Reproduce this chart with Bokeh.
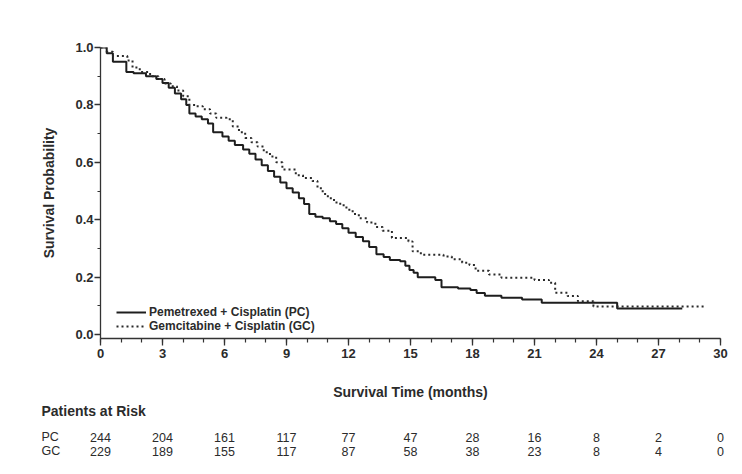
from bokeh.plotting import figure
from bokeh.models import (Range1d, FixedTicker, Legend, LegendItem, CustomJSTickFormatter)
from bokeh.layouts import column
from bokeh.embed import file_html
from bokeh.resources import INLINE
from bokeh.core.properties import value

# ---- data ----
pc_time = [0, 0.3, 0.6, 1.25, 1.6, 2.2, 2.7, 3.0, 3.3, 3.6, 3.9, 4.15, 4.3, 4.6, 4.9,
           5.2, 5.45, 5.9, 6.2, 6.5, 6.9, 7.2, 7.5, 7.8, 8.1, 8.4, 8.7, 9.0, 9.3, 9.6,
           9.85, 10.1, 10.4, 10.75, 11.1, 11.4, 11.7, 12.0, 12.35, 12.7, 13.0, 13.35,
           13.7, 14.0, 14.5, 14.75, 14.95, 15.15, 15.35, 16.2, 16.5, 17.3, 17.9, 18.2,
           18.6, 19.4, 20.4, 21.35, 25.0, 28.15]
pc_surv = [1.0, 0.98, 0.95, 0.915, 0.91, 0.9, 0.89, 0.876, 0.86, 0.84, 0.82, 0.80, 0.77,
           0.76, 0.75, 0.735, 0.705, 0.69, 0.675, 0.66, 0.645, 0.63, 0.61, 0.59, 0.57,
           0.55, 0.53, 0.51, 0.495, 0.475, 0.455, 0.42, 0.41, 0.405, 0.395, 0.385, 0.37,
           0.355, 0.34, 0.325, 0.305, 0.28, 0.27, 0.26, 0.255, 0.24, 0.225, 0.215, 0.2,
           0.19, 0.165, 0.16, 0.155, 0.145, 0.135, 0.128, 0.122, 0.111, 0.091, 0.091]

gc_time = [0, 0.3, 0.6, 1.3, 1.55, 1.9, 2.4, 2.8, 3.1, 3.4, 3.7, 4.0, 4.3, 4.6, 4.95,
           5.3, 5.6, 6.1, 6.4, 6.7, 7.0, 7.3, 7.6, 7.9, 8.2, 8.5, 8.8, 9.45, 9.8, 10.25,
           10.5, 10.75, 11.0, 11.3, 11.6, 11.9, 12.2, 12.5, 12.9, 13.3, 13.65, 14.1,
           14.9, 15.1, 15.5, 16.6, 17.0, 17.5, 17.85, 18.15, 18.8, 19.4, 21.0, 21.7,
           22.0, 22.6, 23.1, 23.85, 29.3]
gc_surv = [1.0, 0.985, 0.97, 0.955, 0.93, 0.915, 0.9, 0.89, 0.875, 0.865, 0.85, 0.83,
           0.80, 0.795, 0.785, 0.77, 0.755, 0.75, 0.725, 0.705, 0.685, 0.67, 0.655,
           0.635, 0.62, 0.60, 0.575, 0.555, 0.545, 0.535, 0.51, 0.49, 0.475, 0.46, 0.45,
           0.435, 0.42, 0.405, 0.39, 0.375, 0.362, 0.336, 0.324, 0.29, 0.278, 0.272,
           0.262, 0.25, 0.242, 0.222, 0.209, 0.198, 0.19, 0.18, 0.146, 0.134, 0.116,
           0.098, 0.098]

risk_months = [0, 3, 6, 9, 12, 15, 18, 21, 24, 27, 30]
pc_at_risk = [244, 204, 161, 117, 77, 47, 28, 16, 8, 2, 0]
gc_at_risk = [229, 189, 155, 117, 87, 58, 38, 23, 8, 4, 0]

y_ticks = [0.0, 0.2, 0.4, 0.6, 0.8, 1.0]
pc_label = "Pemetrexed + Cisplatin (PC)"
gc_label = "Gemcitabine + Cisplatin (GC)"
row_names = ["PC", "GC"]
x_title = "Survival Time (months)"
y_title = "Survival Probability"
table_title = "Patients at Risk"

# ---- layout ----
FONT = "Liberation Sans"
TXT = "#2b2b2b"
W = 734
LEFT, RIGHT, TOP = 100, 14, 47
FRAME_H = 294
H1 = 402
BOTTOM = H1 - TOP - FRAME_H
Y0 = -0.0138
FRAME_W = W - LEFT - RIGHT
ppm = FRAME_W / 30.0

p = figure(width=W, height=H1, x_range=Range1d(0, 30), y_range=Range1d(Y0, 1.0),
           output_backend="svg", toolbar_location=None,
           min_border_left=LEFT, min_border_right=RIGHT,
           min_border_top=TOP, min_border_bottom=BOTTOM)
p.outline_line_color = None
p.grid.visible = False

r1 = p.step(pc_time, pc_surv, mode="after", line_color="#1e1e1e", line_width=2)
r2 = p.step(gc_time, gc_surv, mode="after", line_color="#2a2a2a", line_width=2,
            line_dash="2 3")

p.xaxis.ticker = FixedTicker(ticks=risk_months, minor_ticks=list(range(0, 31)))
p.yaxis.ticker = FixedTicker(ticks=y_ticks, minor_ticks=[i / 10 for i in range(11)])
p.yaxis.formatter = CustomJSTickFormatter(code="return tick.toFixed(1);")

for ax in (p.xaxis[0], p.yaxis[0]):
    ax.axis_line_color = "#333333"
    ax.axis_line_width = 1.3
    ax.major_tick_line_color = "#333333"
    ax.minor_tick_line_color = "#333333"
    ax.major_tick_line_width = 1.3
    ax.minor_tick_line_width = 1.2
    ax.major_tick_in = 0
    ax.minor_tick_in = 0
    ax.major_label_text_font = FONT
    ax.major_label_text_font_size = "13px"
    ax.major_label_text_font_style = "bold"
    ax.major_label_text_color = TXT
    ax.axis_label_text_font = FONT
    ax.axis_label_text_font_size = "14px"
    ax.axis_label_text_font_style = "bold"
    ax.axis_label_text_color = TXT

p.xaxis.major_tick_out = 7
p.xaxis.minor_tick_out = 4
p.xaxis.major_label_standoff = 3
p.xaxis.axis_label = x_title
p.xaxis.axis_label_standoff = 23

p.yaxis.major_tick_out = 6
p.yaxis.minor_tick_out = 3
p.yaxis.major_label_standoff = 1
p.yaxis.axis_label = y_title
p.yaxis.axis_label_standoff = 15

p.add_layout(Legend(items=[LegendItem(label=pc_label, renderers=[r1]),
                           LegendItem(label=gc_label, renderers=[r2])],
                    location=(16, 5), orientation="vertical", padding=0, margin=0,
                    spacing=0, glyph_width=30, glyph_height=12, label_height=12,
                    label_standoff=3, border_line_color=None, background_fill_alpha=0,
                    label_text_font=FONT, label_text_font_size="12px",
                    label_text_font_style="bold", label_text_color=TXT))

# ---- at-risk table (own figure, frame spanning its full width) ----
H2 = 64
t = figure(width=W, height=H2,
           x_range=Range1d(-LEFT / ppm, (W - LEFT) / ppm), y_range=Range1d(H2, 0),
           output_backend="svg", toolbar_location=None,
           x_axis_location=None, y_axis_location=None, min_border=0)
t.frame_align = False
p.frame_align = False
t.grid.visible = False
t.outline_line_color = None

label_x = (41 - LEFT) / ppm
title_y, pc_y, gc_y = 410.5 - H1, 436.5 - H1, 450.5 - H1

t.text(x=[label_x], y=[title_y], text=[table_title], text_align="left",
       text_baseline="middle", text_font=value(FONT), text_font_size="14px",
       text_font_style="bold", text_color=TXT)
t.text(x=[label_x, label_x], y=[pc_y, gc_y], text=row_names, text_align="left",
       text_baseline="middle", text_font=value(FONT), text_font_size="12.5px",
       text_color=TXT)
for counts, yy in ((pc_at_risk, pc_y), (gc_at_risk, gc_y)):
    t.text(x=risk_months, y=[yy] * len(risk_months), text=[str(v) for v in counts],
           text_align="center", text_baseline="middle", text_font=value(FONT),
           text_font_size="12.5px", text_color=TXT)

layout = column(p, t, spacing=0)
open("out.html", "w").write(file_html(layout, INLINE))
